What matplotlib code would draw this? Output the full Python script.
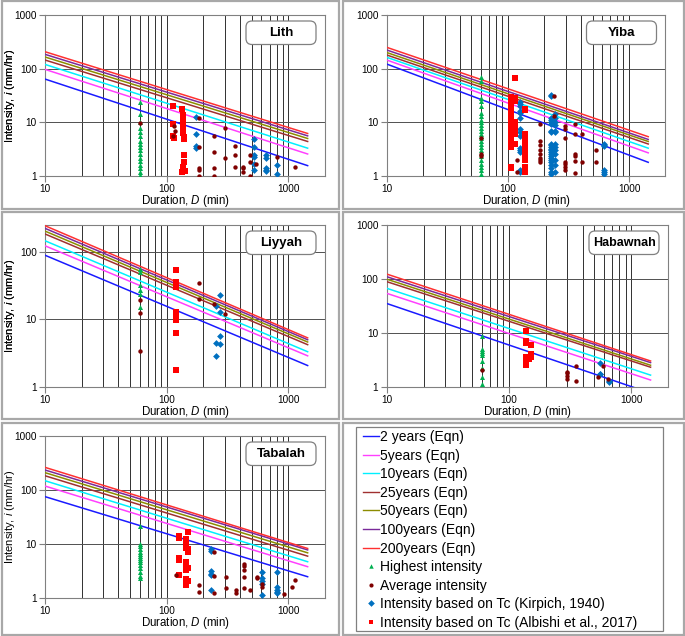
import matplotlib
matplotlib.use('Agg')
import matplotlib.pyplot as plt
from matplotlib.patches import Rectangle, FancyBboxPatch
from matplotlib.lines import Line2D
import matplotlib.ticker as mticker

plt.rcParams['font.family'] = ['Liberation Sans', 'DejaVu Sans']
plt.rcParams['mathtext.fontset'] = 'custom'
plt.rcParams['mathtext.it'] = 'Liberation Sans:italic'
plt.rcParams['mathtext.rm'] = 'Liberation Sans'

# ---------------- data ----------------
return_labels = ['2 years (Eqn)', '5years (Eqn)', '10years (Eqn)', '25years (Eqn)',
                 '50years (Eqn)', '100years (Eqn)', '200years (Eqn)']
line_colors = ['#1a1aff', '#ff40ff', '#00f0ff', '#a03030', '#8c8c00', '#7a2a9a', '#ff3030']
idf_durations = [10, 1440]
highest_duration = 60

# Lith
lith_idf10 = [64, 97, 120, 145, 165, 185, 207]
lith_idf1440 = [1.56, 2.57, 3.3, 4.4, 5.0, 5.6, 6.2]
lith_high_i = [24, 14, 10, 8, 6.5, 5.5, 4.5, 4, 3.5, 3, 2.6, 2.2, 1.9, 1.6, 1.4, 1.2, 1.05]
lith_avg_D = [60, 115, 118, 112, 183, 183, 183, 183, 183, 244, 244, 244, 244, 302, 302,
              362, 362, 362, 425, 425, 425, 480, 480, 480, 540, 800, 1140]
lith_avg_i = [9.6, 8.5, 7, 5.5, 12, 3.5, 1.4, 1.3, 1.0, 5.5, 2.8, 1.4, 1.0, 8, 2.2,
              3.7, 2.5, 1.5, 1.5, 1.4, 1.2, 2.5, 1.8, 1.0, 1.7, 2.3, 1.45]
lith_kir_D = [175, 175, 175, 175, 520, 520, 520, 520, 520, 520, 660, 660, 660, 660, 660, 810, 810]
lith_kir_i = [12.5, 6, 3.6, 3.3, 4.8, 3.5, 2.5, 2.3, 1.7, 1.3, 2.5, 2.2, 1.4, 1.3, 1.25, 1.6, 1.1]
lith_alb_D = [112, 112, 112, 115, 133, 135, 135, 136, 136, 138, 140, 140, 138, 136, 133, 142]
lith_alb_i = [20, 9.3, 5.5, 5.2, 18, 13.6, 10.7, 8.3, 6.2, 5.4, 4.8, 2.5, 1.8, 1.5, 1.2, 1.25]

# Yiba
yiba_idf10 = [122, 145, 163, 180, 200, 223, 250]
yiba_idf1440 = [1.8, 2.7, 3.3, 3.95, 4.4, 4.8, 5.4]
yiba_high_i = [71, 60, 28, 25, 20, 15, 13, 11, 10, 9, 8, 7, 6, 5.5, 5, 4.5, 4, 3.5, 3,
               2.7, 2.4, 2, 1.7, 1.5, 1.3, 1.1, 1.0]
yiba_avg_D = [60, 60, 60, 118, 118, 183, 183, 183, 183, 183, 183, 183, 183, 240, 240,
              295, 295, 295, 295, 295, 295, 295, 357, 357, 357, 357, 357, 357, 410, 410, 535, 535]
yiba_avg_i = [5.2, 2.6, 2.4, 2.0, 1.2, 9.5, 4.5, 3.8, 3.0, 2.6, 2.2, 2.0, 1.8, 31, 13,
              8.5, 7.5, 5, 1.8, 1.7, 1.5, 1.3, 9.5, 6, 2.6, 2.4, 1.9, 1.15, 6, 1.8, 3, 1.8]
yiba_kir_D = [127] * 14 + [229] * 23 + [244] * 13 + [620] * 6
yiba_kir_i = [24, 22, 20, 16, 15, 12, 7.5, 6.5, 5.5, 3.3, 3, 2.8, 1.3, 1.2,
              32, 31, 12, 11, 10, 9.5, 7, 6.5, 4, 3.8, 3.5, 3.2, 3, 2.8, 2.6, 2.4, 2.2, 2.0,
              1.8, 1.6, 1.4, 1.2, 1.1,
              14, 12, 10, 9, 7, 6.5, 4, 3.5, 3, 2.6, 2, 1.6, 1.2,
              4, 3.8, 3.6, 1.3, 1.2, 1.1]
yiba_alb_D = [115] + [107] * 22 + [115] * 7 + [139] * 10
yiba_alb_i = [66,
              30, 27, 22, 20, 17, 15, 13, 10, 9, 8, 7.5, 7, 6.5, 6, 5.5, 5, 4.5, 4, 3.8, 3.5, 1.5, 1.4,
              28, 25, 10, 9, 8, 6, 4,
              18, 17, 6, 5, 4, 3, 2.5, 2, 1.5, 1.2]

# Liyyah
liyyah_idf10 = [89, 123, 146, 184, 203, 223, 244]
liyyah_idf1440 = [2.06, 2.87, 3.3, 4.2, 4.6, 4.97, 5.3]
liyyah_high_i = [55, 50, 32, 27, 24, 15.3]
liyyah_avg_D = [60, 60, 60, 183, 183, 243, 302]
liyyah_avg_i = [19, 12.2, 3.37, 35, 20, 16.6, 12]
liyyah_kir_D = [255, 255, 255, 272, 272, 272, 272]
liyyah_kir_i = [16, 4.5, 2.87, 23, 13, 5.7, 4.3]
liyyah_alb_D = [119] * 10
liyyah_alb_i = [54, 36, 32, 30, 13, 12.5, 10, 9.6, 6.25, 1.75]

# Habawnah
habawnah_idf10 = [35, 54, 67, 89, 99, 110, 123]
habawnah_idf1440 = [0.76, 1.33, 1.64, 2.3, 2.5, 2.8, 3.0]
habawnah_high_i = [8.7, 5.1, 4.5, 4.2, 3.8, 3.0, 2.2, 1.5, 1.1]
habawnah_avg_D = [60, 297, 297, 297, 297, 355, 355, 537, 590, 650]
habawnah_avg_i = [2.04, 1.9, 1.8, 1.6, 1.4, 2.4, 1.3, 1.5, 2.4, 1.4]
habawnah_kir_D = [555, 555, 555, 660, 660]
habawnah_kir_i = [2.7, 1.75, 1.7, 1.3, 1.2]
habawnah_alb_D = [139, 139, 139, 139, 139, 139, 139, 152, 152, 152, 152, 152, 145]
habawnah_alb_i = [10.8, 7, 6.5, 3.5, 3.0, 2.7, 2.5, 6, 5.9, 4, 3.8, 3.5, 3.2]

# Tabalah
tabalah_idf10 = [75, 118, 148, 183, 209, 234, 262]
tabalah_idf1440 = [2.45, 3.76, 4.65, 5.9, 6.8, 7.7, 8.2]
tabalah_high_i = [21.7, 10, 9, 8, 7, 6.5, 6, 5.5, 5, 4.5, 4, 3.5, 3, 2.5, 2.3]
tabalah_avg_D = [120, 184, 184, 245, 245, 245, 305, 305, 370, 370, 428, 428, 428, 428, 428,
                 485, 550, 550, 610, 610, 920, 1080, 1130]
tabalah_avg_i = [2.6, 1.7, 1.3, 7.1, 2.5, 1.2, 2.4, 1.5, 1.4, 1.2, 4.2, 3.8, 3.2, 2.4, 1.5,
                 1.4, 2.4, 2.3, 1.8, 1.6, 1.15, 1.6, 2.1]
tabalah_kir_D = [230] * 6 + [605] * 5 + [810] * 5
tabalah_kir_i = [7.9, 7.5, 3.1, 2.8, 2.6, 1.4, 3.0, 2.3, 2.0, 1.8, 1.1, 3.0, 1.6, 1.4, 1.3, 1.2]
tabalah_alb_D = [126] * 5 + [143] * 8 + [150] * 5
tabalah_alb_i = [14, 13, 5.5, 5, 2.6, 12.5, 9.5, 8.5, 4.5, 3.5, 3.2, 2.2, 1.7,
                 16.8, 8, 7, 3.5, 2.0]

series_labels = ['Highest intensity', 'Average intensity',
                 'Intensity based on Tc (Kirpich, 1940)',
                 'Intensity based on Tc (Albishi et al., 2017)']
series_colors = ['#00b050', '#7f0000', '#0070c0', '#ff0000']
series_markers = ['^', 'o', 'D', 's']
series_sizes = [13, 10, 12, 15]

# ---------------- layout ----------------
W, H = 685, 636
fig = plt.figure(figsize=(W / 100, H / 100), dpi=100)
fig.patch.set_facecolor('white')

def fig_rect_px(l, t, r, b, **kw):
    rect = Rectangle((l / W, 1 - b / H), (r - l) / W, (b - t) / H,
                     transform=fig.transFigure, fill=False, **kw)
    fig.add_artist(rect)

# panel frames
for (l, t, r, b) in [(1.5, 1.5, 339, 209), (342.5, 1.5, 683.5, 209),
                     (1.5, 212, 339, 419), (342.5, 212, 683.5, 419),
                     (1.5, 422.5, 339, 634.5), (342.5, 422.5, 683.5, 634.5)]:
    fig_rect_px(l, t, r, b, edgecolor='#a8a8a8', lw=1.6, zorder=0)

def make_panel(px, name, ymax, idf10, idf1440, high_i, avg_D, avg_i,
               kir_D, kir_i, alb_D, alb_i):
    l, t, r, b = px
    ax = fig.add_axes([l / W, 1 - b / H, (r - l) / W, (b - t) / H])
    ax.set_xscale('log')
    ax.set_yscale('log')
    # IDF lines
    for k in range(len(return_labels)):
        ax.plot(idf_durations, [idf10[k], idf1440[k]], color=line_colors[k], lw=1.1,
                zorder=3, label=return_labels[k])
    ax.scatter([highest_duration] * len(high_i), high_i, marker=series_markers[0],
               s=series_sizes[0], color=series_colors[0], lw=0, zorder=4)
    ax.scatter(avg_D, avg_i, marker=series_markers[1], s=series_sizes[1],
               color=series_colors[1], lw=0, zorder=5)
    ax.scatter(kir_D, kir_i, marker=series_markers[2], s=series_sizes[2],
               color=series_colors[2], lw=0, zorder=4)
    ax.scatter(alb_D, alb_i, marker=series_markers[3], s=series_sizes[3],
               color=series_colors[3], lw=0, zorder=4)
    ax.set_xlim(10, 2000)
    ax.set_ylim(1, ymax)
    ax.xaxis.set_major_locator(mticker.FixedLocator([10, 100, 1000]))
    ax.xaxis.set_major_formatter(mticker.FixedFormatter(['10', '100', '1000']))
    ax.xaxis.set_minor_locator(mticker.LogLocator(base=10, subs=range(2, 10), numticks=20))
    ax.xaxis.set_minor_formatter(mticker.NullFormatter())
    yt = [v for v in [1, 10, 100, 1000] if v <= ymax]
    ax.yaxis.set_major_locator(mticker.FixedLocator(yt))
    ax.yaxis.set_major_formatter(mticker.FixedFormatter([str(v) for v in yt]))
    ax.yaxis.set_minor_locator(mticker.NullLocator())
    ax.grid(True, which='both', axis='x', color='#303030', lw=0.7, zorder=1)
    ax.grid(True, which='major', axis='y', color='#505050', lw=0.7, zorder=1)
    ax.set_axisbelow(True)
    ax.tick_params(which='major', direction='out', length=4, width=0.8,
                   color='#808080', labelsize=7.2, pad=2)
    ax.tick_params(which='minor', length=0)
    for s in ax.spines.values():
        s.set_color('#808080')
        s.set_linewidth(0.8)
    ax.set_xlabel('Duration, $\\it{D}$ (min)', fontsize=8.3)
    ax.set_ylabel('Intensity, $\\it{i}$ (mm/hr)', fontsize=8.1)
    ax.yaxis.label.set_verticalalignment('center')
    ax.xaxis.label.set_verticalalignment('center')
    ax.yaxis.set_label_coords((10.5 - l) / (r - l), 0.5)
    ax.xaxis.set_label_coords(0.5, -25.5 / (b - t))
    # title box (pixel based)
    bw, bh = 70, 23.5
    bx0 = r - 9 - bw
    by0 = t + 6
    box = FancyBboxPatch((bx0 / 100, (H - by0 - bh) / 100), bw / 100, bh / 100,
                         boxstyle='round,pad=0,rounding_size=0.06',
                         transform=fig.dpi_scale_trans, facecolor='white',
                         edgecolor='#808080', lw=0.9, zorder=6)
    fig.add_artist(box)
    fig.text((bx0 + bw / 2) / W, 1 - (by0 + bh / 2) / H, name, ha='center', va='center',
             fontsize=9.5 if len(name) < 8 else 9.0, fontweight='bold', zorder=7)
    return ax

make_panel((45, 15, 325, 176), 'Lith', 1000, lith_idf10, lith_idf1440, lith_high_i,
           lith_avg_D, lith_avg_i, lith_kir_D, lith_kir_i, lith_alb_D, lith_alb_i)
make_panel((386.7, 15, 665.5, 176), 'Yiba', 1000, yiba_idf10, yiba_idf1440, yiba_high_i,
           yiba_avg_D, yiba_avg_i, yiba_kir_D, yiba_kir_i, yiba_alb_D, yiba_alb_i)
make_panel((45, 225, 325, 386.7), 'Liyyah', 250, liyyah_idf10, liyyah_idf1440, liyyah_high_i,
           liyyah_avg_D, liyyah_avg_i, liyyah_kir_D, liyyah_kir_i, liyyah_alb_D, liyyah_alb_i)
make_panel((386.7, 225, 668, 386.7), 'Habawnah', 1000, habawnah_idf10, habawnah_idf1440,
           habawnah_high_i, habawnah_avg_D, habawnah_avg_i, habawnah_kir_D, habawnah_kir_i,
           habawnah_alb_D, habawnah_alb_i)
make_panel((45, 436, 325, 597.7), 'Tabalah', 1000, tabalah_idf10, tabalah_idf1440,
           tabalah_high_i, tabalah_avg_D, tabalah_avg_i, tabalah_kir_D, tabalah_kir_i,
           tabalah_alb_D, tabalah_alb_i)

# ---------------- legend ----------------
fig_rect_px(356, 427, 663, 631, edgecolor='#808080', lw=0.9, zorder=2)
handles = [Line2D([], [], color=c, lw=1.0) for c in line_colors]
for m, c, s in zip(series_markers, series_colors, [3.2, 3.0, 3.4, 3.4]):
    handles.append(Line2D([], [], ls='none', marker=m, color=c, markersize=s, mew=0))
labels = return_labels + series_labels
fig.legend(handles, labels, loc='upper left', bbox_to_anchor=(363 / W, 1 - 430 / H),
           frameon=False, fontsize=10, handlelength=1.15, handletextpad=0.05,
           labelspacing=0.33, borderpad=0.0, borderaxespad=0.0)

fig.savefig('out.png', dpi=100)
